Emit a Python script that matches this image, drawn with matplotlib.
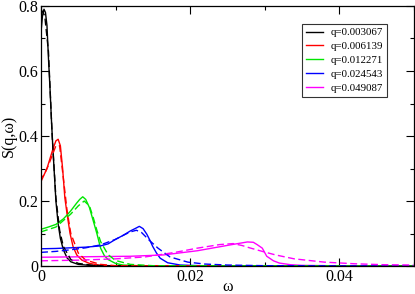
import numpy as np
import matplotlib
matplotlib.use('Agg')
import matplotlib.pyplot as plt
from matplotlib.ticker import MultipleLocator

plt.rcParams['font.family'] = ['Liberation Serif', 'DejaVu Serif']

labels = ['q=0.003067', 'q=0.006139', 'q=0.012271', 'q=0.024543', 'q=0.049087']
colors = ['black', '#ff0000', '#00e600', '#0000ff', '#ff00ff']

# simulation (solid)
w_k1 = [0, 0.0002, 0.0004, 0.0006, 0.0008, 0.001, 0.0012, 0.0014, 0.0016, 0.0018, 0.002, 0.0023, 0.0026, 0.003, 0.0035, 0.004, 0.005, 0.007, 0.01, 0.05]
s_k1 = [0.72, 0.77, 0.79, 0.78, 0.74, 0.64, 0.55, 0.45, 0.36, 0.28, 0.20, 0.13, 0.085, 0.05, 0.025, 0.013, 0.005, 0.001, 0.0, 0.0]
w_k2 = [0, 0.0004, 0.0008, 0.0012, 0.0016, 0.002, 0.0023, 0.0026, 0.0029, 0.0032, 0.0035, 0.0039, 0.0043, 0.0048, 0.0055, 0.0065, 0.008, 0.01, 0.05]
s_k2 = [0.27, 0.28, 0.30, 0.33, 0.36, 0.385, 0.39, 0.37, 0.30, 0.21, 0.16, 0.10, 0.06, 0.034, 0.018, 0.008, 0.002, 0.0005, 0]
w_k3 = [0, 0.001, 0.002, 0.003, 0.0035, 0.004, 0.0048, 0.0052, 0.0056, 0.006, 0.0065, 0.007, 0.0075, 0.008, 0.0085, 0.009, 0.01, 0.011, 0.013, 0.05]
s_k3 = [0.113, 0.12, 0.128, 0.145, 0.157, 0.17, 0.194, 0.205, 0.213, 0.205, 0.18, 0.14, 0.10, 0.055, 0.032, 0.02, 0.008, 0.003, 0.001, 0]
w_k4 = [0, 0.002, 0.004, 0.006, 0.008, 0.009, 0.01, 0.011, 0.012, 0.0127, 0.0132, 0.0137, 0.0142, 0.0146, 0.015, 0.0155, 0.016, 0.017, 0.0187, 0.022, 0.05]
s_k4 = [0.053, 0.054, 0.056, 0.058, 0.062, 0.068, 0.082, 0.094, 0.108, 0.116, 0.122, 0.115, 0.098, 0.08, 0.06, 0.04, 0.024, 0.01, 0.003, 0.0005, 0]
w_k5 = [0, 0.004, 0.008, 0.012, 0.0164, 0.021, 0.0254, 0.0277, 0.0285, 0.029, 0.0297, 0.0303, 0.0312, 0.032, 0.0335, 0.035, 0.04, 0.05]
s_k5 = [0.027, 0.028, 0.029, 0.03, 0.034, 0.047, 0.065, 0.074, 0.073, 0.066, 0.055, 0.03, 0.016, 0.009, 0.004, 0.002, 0.0005, 0]

# theory (dashed)
wt_k1 = [0, 0.0005, 0.001, 0.0015, 0.002, 0.0025, 0.003, 0.004, 0.005, 0.007, 0.01, 0.05]
st_k1 = [0.79, 0.77, 0.66, 0.40, 0.21, 0.11, 0.06, 0.02, 0.008, 0.002, 0.0005, 0]
wt_k2 = [0, 0.001, 0.002, 0.0025, 0.003, 0.0035, 0.004, 0.005, 0.006, 0.008, 0.01, 0.05]
st_k2 = [0.26, 0.31, 0.37, 0.37, 0.27, 0.17, 0.10, 0.04, 0.018, 0.005, 0.001, 0]
wt_k3 = [0, 0.002, 0.004, 0.005, 0.0058, 0.0065, 0.007, 0.0075, 0.008, 0.009, 0.01, 0.012, 0.015, 0.05]
st_k3 = [0.105, 0.12, 0.16, 0.185, 0.2, 0.185, 0.15, 0.11, 0.075, 0.035, 0.017, 0.005, 0.001, 0]
wt_k4 = [0, 0.002, 0.004, 0.006, 0.008, 0.01, 0.011, 0.012, 0.0128, 0.0135, 0.0145, 0.0157, 0.0173, 0.0197, 0.022, 0.025, 0.03, 0.05]
st_k4 = [0.042, 0.045, 0.05, 0.056, 0.065, 0.082, 0.094, 0.105, 0.11, 0.103, 0.08, 0.055, 0.028, 0.012, 0.006, 0.003, 0.001, 0]
wt_k5 = [0, 0.005, 0.01, 0.014, 0.018, 0.021, 0.024, 0.0258, 0.027, 0.028, 0.0297, 0.0315, 0.034, 0.038, 0.042, 0.046, 0.05]
st_k5 = [0.016, 0.018, 0.022, 0.028, 0.042, 0.055, 0.066, 0.069, 0.063, 0.056, 0.045, 0.034, 0.022, 0.012, 0.007, 0.004, 0.003]

sim = [(w_k1, s_k1), (w_k2, s_k2), (w_k3, s_k3), (w_k4, s_k4), (w_k5, s_k5)]
theory = [(wt_k1, st_k1), (wt_k2, st_k2), (wt_k3, st_k3), (wt_k4, st_k4), (wt_k5, st_k5)]

fig = plt.figure(figsize=(4.15, 2.94), dpi=100)
ax = fig.add_axes([0.0988, 0.0952, 0.8976, 0.8844])

for (w, s), c, lab in zip(sim, colors, labels):
    ax.plot(w, s, color=c, lw=1.0, label=lab)
for (w, s), c in zip(theory, colors):
    ax.plot(w, s, color=c, lw=1.0, dashes=(5, 2.5))

ax.set_xlim(0, 0.05)
ax.set_ylim(0, 0.8)
ax.xaxis.set_minor_locator(MultipleLocator(0.01))
ax.yaxis.set_minor_locator(MultipleLocator(0.1))
ax.set_xticks([0, 0.02, 0.04])
ax.set_xticklabels(['0', '0.02', '0.04'])
ax.set_yticks([0, 0.2, 0.4, 0.6, 0.8])
ax.set_yticklabels(['0', '0.2', '0.4', '0.6', '0.8'])
ax.tick_params(which='both', direction='in', top=True, right=True, labelsize=11.5, pad=2)
ax.tick_params(which='major', length=6, width=0.8)
ax.tick_params(which='minor', length=3, width=0.8)
for sp in ax.spines.values():
    sp.set_linewidth(0.9)

ax.set_xlabel('ω', fontsize=11.5)
ax.xaxis.label.set_va('center')
ax.xaxis.set_label_coords(0.5, -0.079)
ax.set_ylabel('S(q,ω)', fontsize=11.5, labelpad=1)

leg = ax.legend(loc='upper left', bbox_to_anchor=(0.70, 0.931), borderaxespad=0,
                fontsize=7.8, frameon=True, fancybox=False, handlelength=1.6,
                handletextpad=0.7, labelspacing=0.4, borderpad=0.35)
leg.get_frame().set_edgecolor('black')
leg.get_frame().set_linewidth(0.8)

plt.savefig('out.png', dpi=100)
